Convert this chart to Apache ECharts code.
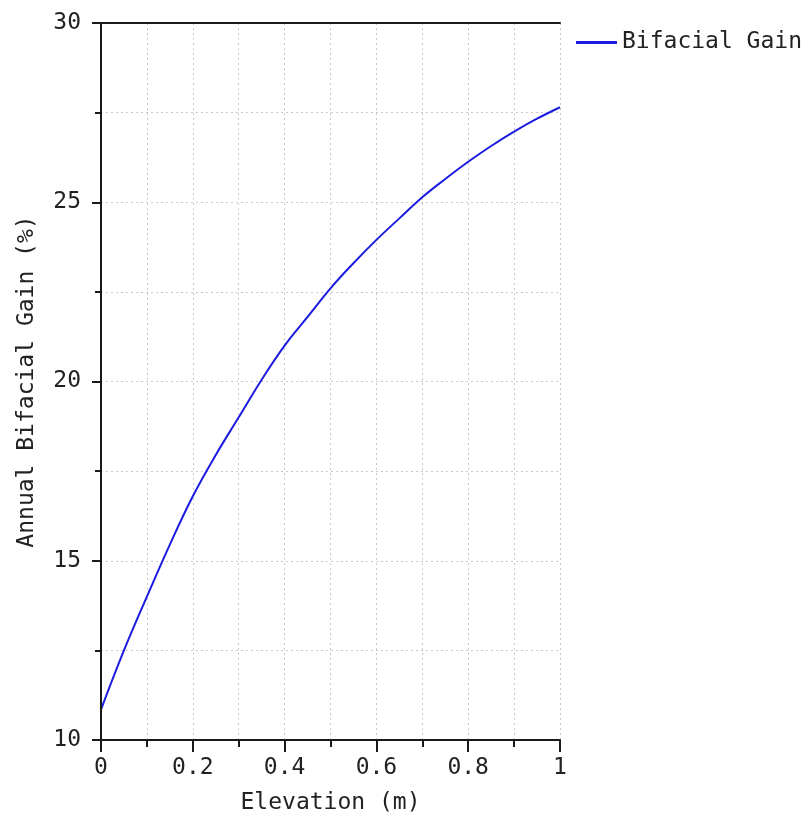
<!DOCTYPE html>
<html>
<head>
<meta charset="utf-8">
<script src="https://cdn.jsdelivr.net/npm/echarts@6/dist/echarts.min.js"></script>
<style>
html,body{margin:0;padding:0;background:#fff;}
#chart{width:808px;height:816px;}
</style>
</head>
<body>
<div id="chart"></div>
<script>
const elevation = [0, 0.05, 0.1, 0.15, 0.2, 0.25, 0.3, 0.35, 0.4, 0.45, 0.5, 0.55, 0.6, 0.65, 0.7, 0.75, 0.8, 0.85, 0.9, 0.95, 1.0];
const bifacialGain = [10.85, 12.5, 14.0, 15.45, 16.8, 17.95, 19.0, 20.05, 21.0, 21.8, 22.6, 23.3, 23.95, 24.55, 25.14, 25.65, 26.13, 26.57, 26.97, 27.33, 27.65];
const seriesName = 'Bifacial Gain';
const xTitle = 'Elevation (m)';
const yTitle = 'Annual Bifacial Gain (%)';

const FONT = 'DejaVu Sans Mono';
const TXT = '#222';
const AX = '#1a1a1a';
const GRID = '#c8c8c8';
const chart = echarts.init(document.getElementById('chart'), null, {renderer: 'canvas'});
const frameAxis = {
  axisLine: {show: true, lineStyle: {color: AX, width: 2}},
  axisTick: {show: false}, axisLabel: {show: false}, splitLine: {show: false}
};
chart.setOption({
  animation: false,
  backgroundColor: '#fff',
  textStyle: {fontFamily: FONT},
  grid: {left: 101, right: 248, top: 23, bottom: 76, containLabel: false, outerBoundsMode: 'none'},
  legend: {
    left: 576, top: 31, padding: 0, itemWidth: 41, itemHeight: 3, icon: 'rect',
    textStyle: {fontFamily: FONT, fontSize: 23, color: TXT},
    data: [seriesName]
  },
  xAxis: [{
    type: 'value', min: 0, max: 1, interval: 0.2, position: 'bottom',
    name: xTitle, nameLocation: 'middle', nameGap: 52,
    nameTextStyle: {fontFamily: FONT, fontSize: 23, color: TXT},
    axisLine: {show: true, lineStyle: {color: AX, width: 2}},
    axisTick: {show: true, length: 12, lineStyle: {color: AX, width: 2}},
    minorTick: {show: true, splitNumber: 2, length: 7, lineStyle: {color: AX, width: 2}},
    axisLabel: {fontFamily: FONT, fontSize: 23, color: TXT, margin: 17},
    splitLine: {show: true, lineStyle: {color: GRID, type: [2, 3], width: 1}},
    minorSplitLine: {show: true, lineStyle: {color: GRID, type: [2, 3], width: 1}}
  }, Object.assign({type: 'value', min: 0, max: 1, position: 'top', z: 10}, frameAxis)],
  yAxis: [{
    type: 'value', min: 10, max: 30, interval: 5, position: 'left',
    name: yTitle, nameLocation: 'middle', nameGap: 62,
    nameTextStyle: {fontFamily: FONT, fontSize: 23, color: TXT},
    axisLine: {show: true, lineStyle: {color: AX, width: 2}},
    axisTick: {show: true, length: 9, lineStyle: {color: AX, width: 2}},
    minorTick: {show: true, splitNumber: 2, length: 6, lineStyle: {color: AX, width: 2}},
    axisLabel: {fontFamily: FONT, fontSize: 23, color: TXT, margin: 20},
    splitLine: {show: true, lineStyle: {color: GRID, type: [2, 3], width: 1}},
    minorSplitLine: {show: true, lineStyle: {color: GRID, type: [2, 3], width: 1}}
  }, Object.assign({type: 'value', min: 10, max: 30, position: 'right', z: 10}, frameAxis)],
  series: [{
    name: seriesName, type: 'line', xAxisIndex: 0, yAxisIndex: 0,
    data: elevation.map((x, i) => [x, bifacialGain[i]]),
    showSymbol: false, symbol: 'none', smooth: 0.4,
    color: '#1c1ce0',
    lineStyle: {color: '#1c1ce0', width: 2}
  }]
});
</script>
</body>
</html>
